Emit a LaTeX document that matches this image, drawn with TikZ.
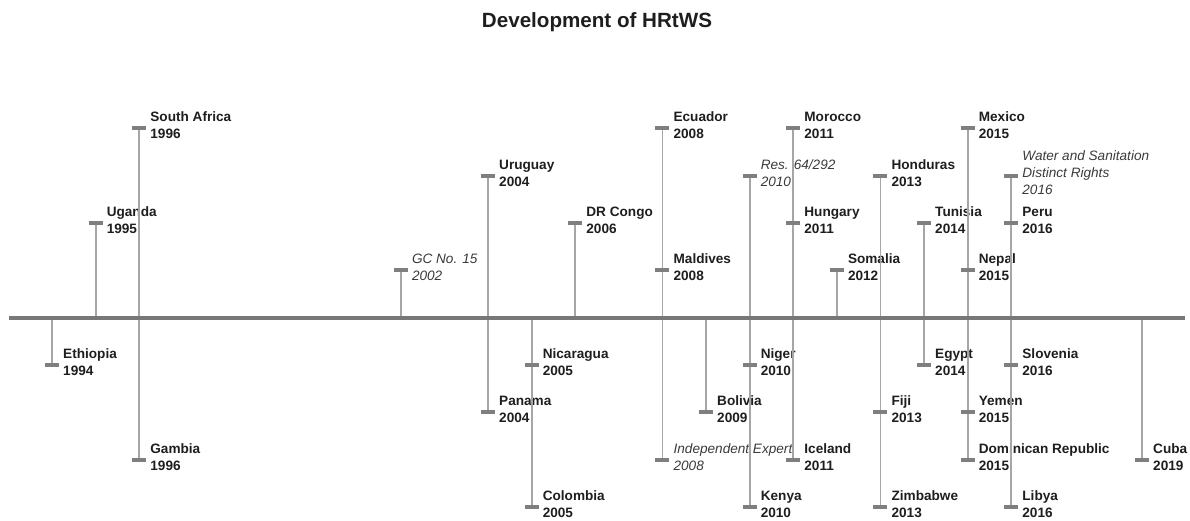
\documentclass[tikz,border=0pt]{standalone}
\usepackage{fontspec}
\setmainfont{Liberation Sans}
\definecolor{axisgray}{HTML}{787878}
\definecolor{stemgray}{HTML}{A6A6A6}
\definecolor{tickgray}{HTML}{7F7F7F}
\definecolor{labelink}{HTML}{1E1E1E}
\definecolor{noteink}{HTML}{3A3A3A}
\pgfdeclarelayer{labels}
\pgfdeclarelayer{stems}
\pgfsetlayers{labels,stems,main}
\tikzset{
  axisline/.style={draw=axisgray,line width=4.2pt},
  stem/.style={draw=stemgray,line width=1.8pt},
  tickmark/.style={fill=tickgray,minimum width=14pt,minimum height=4pt,inner sep=0pt},
  event/.style={anchor=west,align=left,inner sep=0pt,xshift=11pt,yshift=2.5pt,
    text=labelink,font=\bfseries\fontsize{13.6}{17}\selectfont},
  note/.style={event,text=noteink,font=\itshape\fontsize{13.6}{17}\selectfont},
  notetall/.style={note,yshift=1pt},
}
\begin{document}
\begin{tikzpicture}[x=1pt,y=-1pt]
\useasboundingbox (0,0) rectangle (1190,520);
\node[anchor=base,text=labelink,font=\bfseries\fontsize{20.6}{24}\selectfont] (title) at (597,27.5) {Development of HRtWS};
\coordinate (axis-l) at (9,318);
\coordinate (axis-r) at (1185,318);
% year / level / id / text / style
\foreach \yr/\lv/\id/\txt/\sty in {
  1994/365/et/{Ethiopia\\1994}/event,
  1995/223/ug/{Uganda\\1995}/event,
  1996/128/za/{South Africa\\1996}/event,
  1996/460/gm/{Gambia\\1996}/event,
  2002/270/gc/{GC No. 15\\2002}/note,
  2004/176/uy/{Uruguay\\2004}/event,
  2004/412/pa/{Panama\\2004}/event,
  2005/507/co/{Colombia\\2005}/event,
  2005/365/ni/{Nicaragua\\2005}/event,
  2006/223/cd/{DR Congo\\2006}/event,
  2008/128/ec/{Ecuador\\2008}/event,
  2008/270/mv/{Maldives\\2008}/event,
  2008/460/ie/{Independent Expert\\2008}/note,
  2009/412/bo/{Bolivia\\2009}/event,
  2010/176/res/{Res. 64/292\\2010}/note,
  2010/507/ke/{Kenya\\2010}/event,
  2010/365/ne/{Niger\\2010}/event,
  2011/128/ma/{Morocco\\2011}/event,
  2011/223/hu/{Hungary\\2011}/event,
  2011/460/is/{Iceland\\2011}/event,
  2012/270/so/{Somalia\\2012}/event,
  2013/176/hn/{Honduras\\2013}/event,
  2013/507/zw/{Zimbabwe\\2013}/event,
  2013/412/fj/{Fiji\\2013}/event,
  2014/223/tn/{Tunisia\\2014}/event,
  2014/365/eg/{Egypt\\2014}/event,
  2015/128/mx/{Mexico\\2015}/event,
  2015/270/np/{Nepal\\2015}/event,
  2015/460/do/{Dominican Republic\\2015}/event,
  2015/412/ye/{Yemen\\2015}/event,
  2016/176/wsr/{Water and Sanitation\\Distinct Rights\\2016}/notetall,
  2016/223/pe/{Peru\\2016}/event,
  2016/507/ly/{Libya\\2016}/event,
  2016/365/si/{Slovenia\\2016}/event,
  2019/460/cu/{Cuba\\2019}/event}{
  \pgfmathsetmacro\xpos{52+(\yr-1994)*43.6}
  \coordinate (ax-\id) at (\xpos,318);
  \node[tickmark] (tk-\id) at (\xpos,\lv) {};
  \begin{pgfonlayer}{labels}
    \node[\sty] (lb-\id) at (tk-\id.center) {\txt};
  \end{pgfonlayer}
  \begin{pgfonlayer}{stems}
    \draw[stem] (ax-\id) -- (tk-\id.center);
  \end{pgfonlayer}
}
\draw[axisline] (axis-l) -- (axis-r);
\end{tikzpicture}
\end{document}
